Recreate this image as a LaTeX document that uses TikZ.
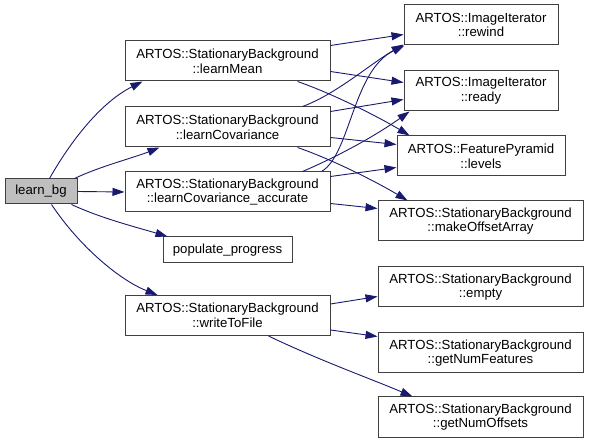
\documentclass[tikz,border=0pt]{standalone}
\usepackage{fontspec}
\setmainfont{Liberation Sans}
\usetikzlibrary{arrows.meta,calc}
\definecolor{edgecol}{HTML}{191970}
\definecolor{hlfill}{HTML}{BFBFBF}
\begin{document}
\begin{tikzpicture}[x=1pt,y=-1pt,
  box/.style={draw=black!75,line width=1pt,fill=white,inner sep=0pt,align=center,
    font=\fontsize{13.2}{14.8}\selectfont,text=black},
  edge/.style={draw=edgecol,line width=0.9pt,-{Triangle[length=12pt,width=8pt]}}]
\useasboundingbox (0,0) rectangle (589,443);
% nodes
\node[box,fill=hlfill,minimum width=72pt,minimum height=25pt] (lb) at (41,191.5) {learn\_bg};
\node[box,minimum width=205pt,minimum height=40pt] (lM) at (227.5,61) {ARTOS::StationaryBackground\\::learnMean};
\node[box,minimum width=205pt,minimum height=40pt] (lC) at (227.5,127) {ARTOS::StationaryBackground\\::learnCovariance};
\node[box,minimum width=205pt,minimum height=40pt] (lCA) at (227.5,192) {ARTOS::StationaryBackground\\::learnCovariance\_accurate};
\node[box,minimum width=129pt,minimum height=26pt] (pp) at (227.5,250) {populate\_progress};
\node[box,minimum width=205pt,minimum height=40pt] (wtf) at (227.5,315.5) {ARTOS::StationaryBackground\\::writeToFile};
\node[box,minimum width=154pt,minimum height=40pt] (rw) at (481,25) {ARTOS::ImageIterator\\::rewind};
\node[box,minimum width=154pt,minimum height=40pt] (rd) at (481,91) {ARTOS::ImageIterator\\::ready};
\node[box,minimum width=168pt,minimum height=40pt] (lv) at (481,156) {ARTOS::FeaturePyramid\\::levels};
\node[box,minimum width=205pt,minimum height=40pt] (mOA) at (480.5,221) {ARTOS::StationaryBackground\\::makeOffsetArray};
\node[box,minimum width=205pt,minimum height=40pt] (em) at (480.5,287) {ARTOS::StationaryBackground\\::empty};
\node[box,minimum width=205pt,minimum height=40pt] (gNF) at (480.5,353) {ARTOS::StationaryBackground\\::getNumFeatures};
\node[box,minimum width=205pt,minimum height=40pt] (gNO) at (480.5,417) {ARTOS::StationaryBackground\\::getNumOffsets};
% edges from learn_bg
\draw[edge] ($(lb.north west)+(45,0)$) .. controls +(25,-44) and +(-38,19) .. ($(lM.south west)+(18,0)$);
\draw[edge] ($(lb.north west)+(70,0)$) .. controls +(25,-12) and +(-25,10) .. ($(lC.south west)+(35,0)$);
\draw[edge] (lb.east) -- (lCA.west);
\draw[edge] ($(lb.south west)+(67,0)$) .. controls +(30,14) and +(-30,-9) .. ($(pp.north west)+(5,0)$);
\draw[edge] ($(lb.south west)+(47,0)$) .. controls +(28,42) and +(-38,-15) .. ($(wtf.north west)+(33,0)$);
% edges from learnMean
\draw[edge] ($(lM.north east)+(0,5)$) -- ($(rw.north west)+(0,30)$);
\draw[edge] ($(lM.north east)+(0,31)$) -- ($(rd.north west)+(0,12)$);
\draw[edge] ($(lM.south east)+(-33,0)$) .. controls +(35,12) and +(-30,-18) .. ($(lv.north west)+(13,0)$);
% edges from learnCovariance
\draw[edge] ($(lC.north east)+(-28,0)$) .. controls +(33,-12) and +(-34,20) .. ($(rw.south west)+(0,-1)$);
\draw[edge] ($(lC.north east)+(0,5)$) -- ($(rd.north west)+(0,29)$);
\draw[edge] ($(lC.north east)+(0,31)$) -- ($(lv.north west)+(0,9)$);
\draw[edge] ($(lC.south east)+(-33,0)$) .. controls +(35,12) and +(-30,-18) .. ($(mOA.north west)+(30,0)$);
% edges from learnCovariance_accurate
\draw[edge] ($(lCA.north east)+(-9,0)$) .. controls +(29,-17) and +(-52,25) .. ($(rw.south west)+(1,0)$);
\draw[edge] ($(lCA.north east)+(-28,0)$) .. controls +(35,-15) and +(-35,25) .. ($(rd.south west)+(6,0)$);
\draw[edge] ($(lCA.north east)+(0,5)$) -- ($(lv.north west)+(0,32)$);
\draw[edge] ($(lCA.north east)+(0,32)$) -- ($(mOA.north west)+(0,8)$);
% edges from writeToFile
\draw[edge] ($(wtf.north east)+(0,9)$) -- ($(em.north west)+(0,30)$);
\draw[edge] ($(wtf.north east)+(0,35)$) -- ($(gNF.north west)+(0,4)$);
\draw[edge] ($(wtf.south east)+(-62,0)$) .. controls +(50,24) and +(-40,-17) .. ($(gNO.north west)+(35,0)$);
\end{tikzpicture}
\end{document}
